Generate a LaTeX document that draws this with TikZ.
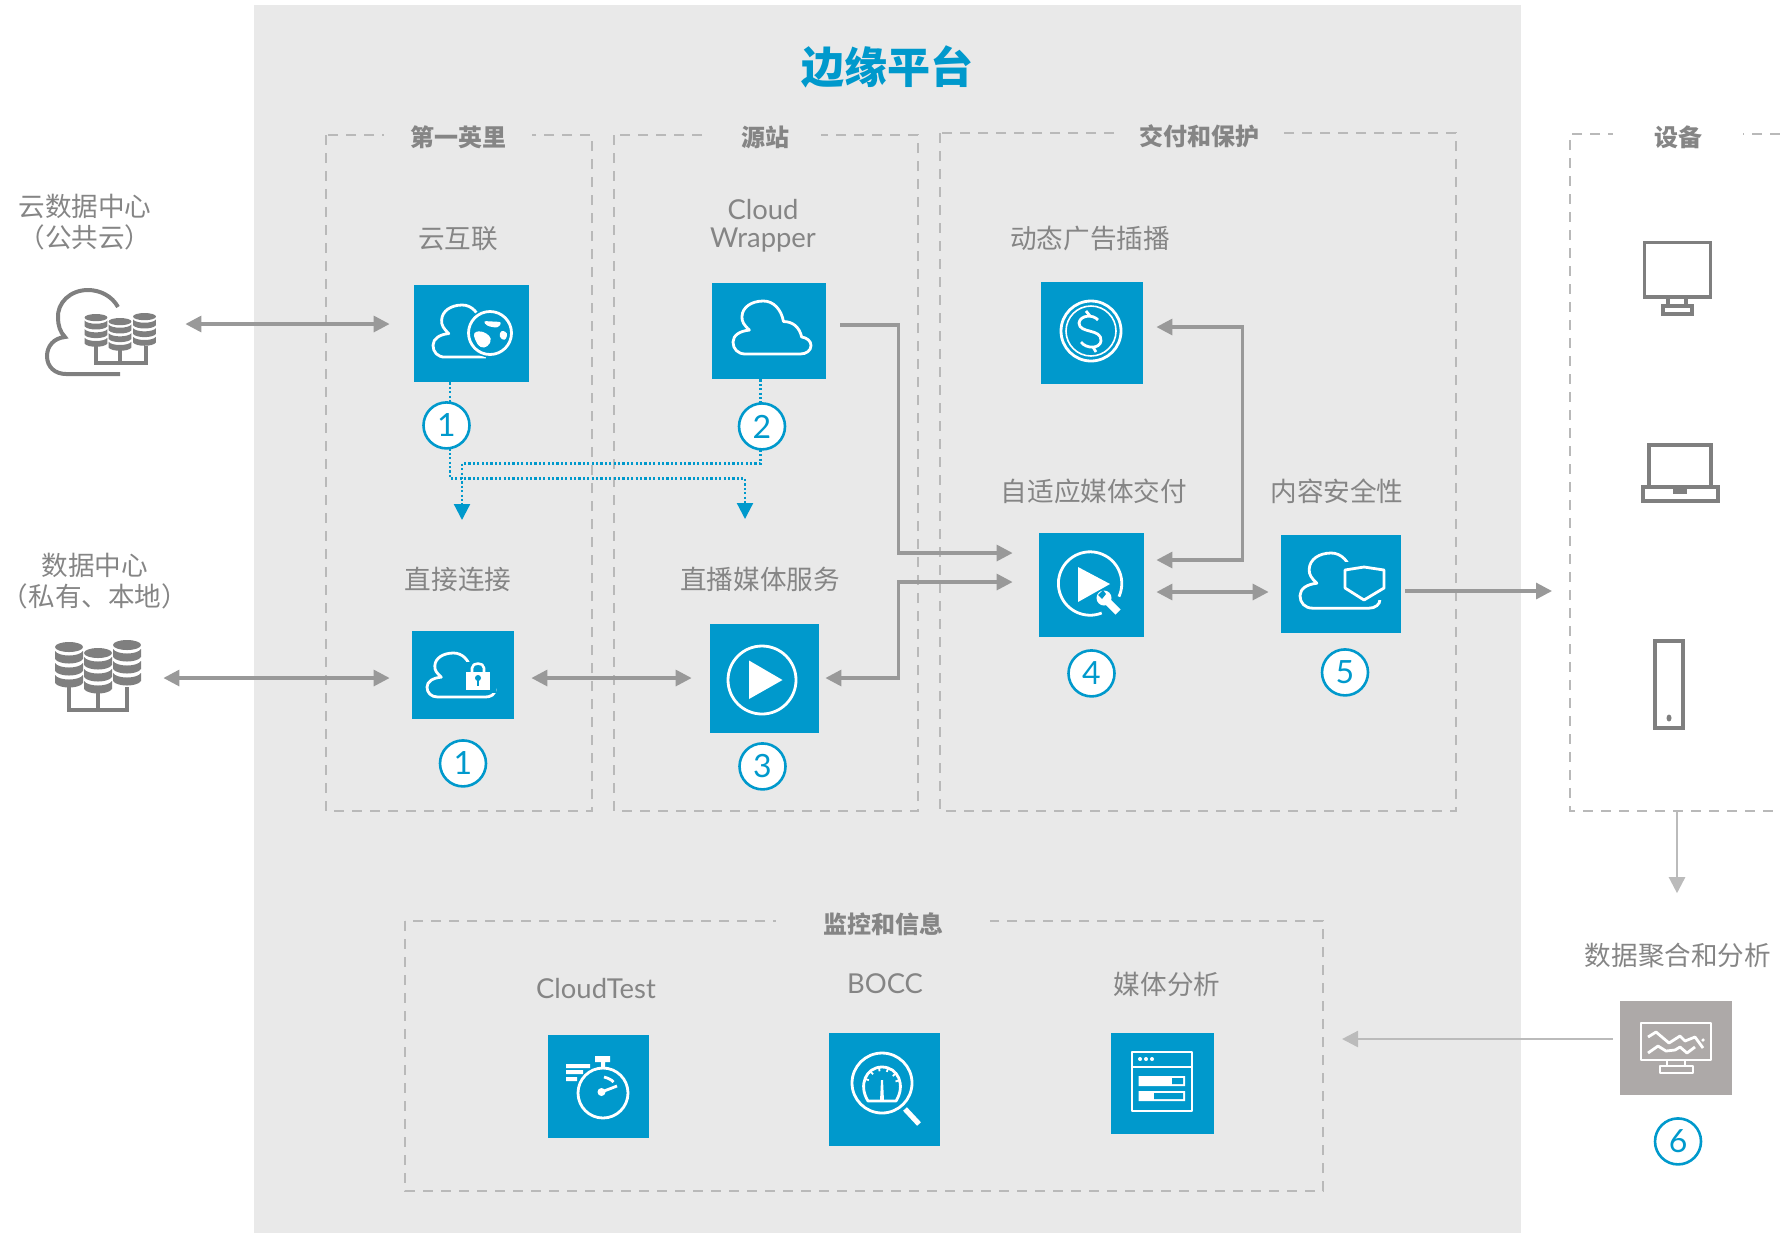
\documentclass[tikz,border=0pt]{standalone}
\usepackage{fontspec}
\setmainfont{Lato}
\newfontfamily\cjk{Noto Sans CJK SC}
\usetikzlibrary{arrows.meta,positioning}
\pgfdeclarelayer{back}
\pgfsetlayers{back,main}
\definecolor{akblue}{HTML}{0099CC}
\definecolor{panelgray}{HTML}{E9E9E9}
\definecolor{dashgray}{HTML}{B9B9B9}
\definecolor{textgray}{HTML}{858585}
\definecolor{conngray}{HTML}{999999}
\definecolor{lightconn}{HTML}{BBBBBB}
\definecolor{iconinkgray}{HTML}{7F7F7F}
\definecolor{agggray}{HTML}{ADA9A8}
\tikzset{
    iconbox/.style 2 args={
        rectangle,
        fill=akblue,
        inner sep=0pt,
        minimum width=#1*0.5pt,
        minimum height=#2*0.5pt,
    },
    ghostbox/.style 2 args={
        rectangle,
        inner sep=0pt,
        minimum width=#1*0.5pt,
        minimum height=#2*0.5pt,
    },
    stepnum/.style={
        circle,
        draw=akblue,
        line width=1.3pt,
        fill=white,
        text=akblue,
        inner sep=0pt,
        outer sep=0pt,
        minimum size=23pt,
        font=\fontsize{16}{16}\selectfont,
    },
    boxlabel/.style={
        inner sep=0pt,
        align=center,
        text=textgray,
        font=\cjk\fontsize{13.3}{15.5}\selectfont,
    },
    boxlabelen/.style={
        inner sep=0pt,
        align=center,
        text=textgray,
        font=\fontsize{13.7}{14}\selectfont,
    },
    boxtitle/.style={
        fill=panelgray,
        inner sep=0pt,
        text=textgray,
        minimum height=12pt,
        font=\cjk\bfseries\fontsize{12}{13}\selectfont,
    },
    dashbox/.style={
        draw=dashgray,
        line width=1.2pt,
        dash pattern=on 5pt off 4pt,
    },
    conn/.style={
        draw=conngray,
        line width=1.6pt,
    },
    connlight/.style={
        draw=lightconn,
        line width=1.2pt,
    },
    dotconn/.style={
        draw=akblue,
        line width=1.1pt,
        dash pattern=on 1.1pt off 1.1pt,
    },
    iconline/.style={
        draw=white,
        line width=1.4pt,
        line join=round,
    },
    devline/.style={
        draw=iconinkgray,
        line width=1.6pt,
    },
    cloudico/.pic={
        \draw[iconline] (16,62) .. controls (6,62) and (0,56) .. (0,48)
            .. controls (0,40) and (9,35) .. (21,34)
            .. controls (14,28) and (11,24) .. (11.5,18)
            .. controls (12,7) and (24,0) .. (39,0)
            .. controls (52,0) and (62,10) .. (64.7,24)
            .. controls (76,24) and (85,30) .. (88,42)
            .. controls (95,43) and (100,47) .. (100,52)
            .. controls (100,58) and (94,62) .. (86,62) -- cycle;
    },
    dbstack/.pic={
        \fill[iconinkgray] (0,5) ellipse [x radius=14,y radius=5];
        \foreach \y in {9,21,33}
            \fill[iconinkgray] (-14,\y) -- (-14,\y+8)
                .. controls (-10,\y+14) and (10,\y+14) .. (14,\y+8) -- (14,\y)
                .. controls (10,\y+6) and (-10,\y+6) .. (-14,\y) -- cycle;
    },
}

\begin{document}
\begin{tikzpicture}[x=0.5pt,y=-0.5pt,>={Triangle[length=8pt,width=8pt]}]
    \useasboundingbox (0,0) rectangle (1780,1233);

    % panel and dashed groups
    \begin{pgfonlayer}{back}
        \fill[panelgray] (254,5) rectangle (1521,1233);
        \draw[dashbox] (326,135) rectangle (592,811);
        \draw[dashbox] (614,135) rectangle (918,811);
        \draw[dashbox] (940,133) rectangle (1456,811);
        \draw[dashbox] (1780,134) -- (1570,134) -- (1570,811) -- (1780,811);
        \draw[dashbox] (405,921) rectangle (1323,1191);
    \end{pgfonlayer}

    \node [text=akblue,inner sep=0pt,font=\cjk\bfseries\fontsize{21.5}{24}\selectfont] (edgetitle) at (887,67) {边缘平台};
    \node [boxtitle,minimum width=74pt] (firstmile) at (458,137) {第一英里};
    \node [boxtitle,minimum width=56pt] (origin) at (765,137) {源站};
    \node [boxtitle,minimum width=78pt] (delivery) at (1199,136) {交付和保护};
    \node [boxtitle,fill=white,minimum width=65pt] (devices) at (1678,137) {设备};
    \node [boxtitle,minimum width=107pt] (monitor) at (883,924) {监控和信息};

    % left side sources
    \node [boxlabel] (pubdcl) at (85,222) {云数据中心\\（公共云）};
    \node [ghostbox={110}{86}] (pubdc) at (100,332) {};
    \node [boxlabel] (dbnl) at (95,581) {数据中心\\（私有、本地）};
    \node [ghostbox={85}{72}] (dbn) at (97.5,676) {};

    % service icons
    \node [iconbox={115}{97}] (ci) at (471.5,333.5) {};
    \node [iconbox={114}{96}] (cw) at (769,331) {};
    \node [iconbox={102}{102}] (dai) at (1092,333) {};
    \node [iconbox={102}{88}] (dc) at (463,675) {};
    \node [iconbox={109}{109}] (lm) at (764.5,678.5) {};
    \node [iconbox={105}{104}] (amd) at (1091.5,585) {};
    \node [iconbox={120}{98}] (sec) at (1341,584) {};
    \node [iconbox={101}{103}] (ct) at (598.5,1086.5) {};
    \node [iconbox={111}{113}] (bocc) at (884.5,1089.5) {};
    \node [iconbox={103}{101}] (ma) at (1162.5,1083.5) {};
    \node [iconbox={112}{94},fill=agggray] (agg) at (1676,1048) {};

    \node [boxlabel] (cil) at (458,238.5) {云互联};
    \node [boxlabelen] (cwl) at (763,226) {Cloud\\Wrapper};
    \node [boxlabel] (dail) at (1090,238) {动态广告插播};
    \node [boxlabel] (dcl) at (458,579) {直接连接};
    \node [boxlabel] (lml) at (760,579) {直播媒体服务};
    \node [boxlabel] (amdl) at (1094,491) {自适应媒体交付};
    \node [boxlabel] (secl) at (1337,491) {内容安全性};
    \node [boxlabelen] (ctl) at (596,988) {CloudTest};
    \node [boxlabelen] (boccl) at (885,984) {BOCC};
    \node [boxlabel] (mal) at (1167,984) {媒体分析};
    \node [boxlabel] (aggl) at (1678,955) {数据聚合和分析};

    \node [stepnum,below=10pt of ci,xshift=-12.5pt] (n1a) {1};
    \node [stepnum,below=12pt of cw,xshift=-3.5pt] (n2) {2};
    \node [stepnum,below=10.5pt of dc] (n1b) {1};
    \node [stepnum,below=5pt of lm,xshift=-1pt] (n3) {3};
    \node [stepnum,below=6.5pt of amd] (n4) {4};
    \node [stepnum,below=8pt of sec,xshift=2pt] (n5) {5};
    \node [stepnum,below=11.5pt of agg,xshift=1pt] (n6) {6};

    \coordinate (dcin) at (462,520);
    \coordinate (lmin) at (745,519);
    \coordinate (devin) at (1552,591);
    \coordinate (monin) at (1342,1039);

    % connectors go under the numbered circles
    \begin{pgfonlayer}{back}
        \draw[conn,<->] ([shift={(30,-8)}]pubdc.east) -- ([shift={(-24,-9.5)}]ci.west);
        \draw[conn,<->] ([shift={(23,2)}]dbn.east) -- ([shift={(-22,3)}]dc.west);
        \draw[conn,<->] ([shift={(17,3)}]dc.east) -- ([shift={(-18,-0.5)}]lm.west);
        \draw[conn,->] ([shift={(14,-6)}]cw.east) -- ++(58,0) |- ([shift={(-26,-32)}]amd.west);
        \draw[conn,<->] ([shift={(6,-0.5)}]lm.east) -- ++(73,0) |- ([shift={(-26,-3)}]amd.west);
        \draw[conn,<->] ([shift={(13,-6)}]dai.east) -- ++(86,0) |- ([shift={(12,-25)}]amd.east);
        \draw[conn,<->] ([shift={(12,7)}]amd.east) -- ([shift={(-12,8)}]sec.west);
        \draw[conn,->] ([shift={(4,7)}]sec.east) -- (devin);
        \draw[connlight,->] (1677,811) -- ([shift={(-1,-49)}]aggl.north);
        \draw[connlight,->] ([shift={(-7,-9)}]agg.west) -- (monin);
        \draw[dotconn,->] ([xshift=-10.75pt]ci.south) -- ++(0,96) -| (lmin);
        \draw[dotconn,->] ([xshift=-4.25pt]cw.south) -- ++(0,84) -| (dcin);
    \end{pgfonlayer}

    % cloud db icon
    \draw[devline,line width=2pt] (118,307) .. controls (112,296) and (100,290) .. (88,290)
        .. controls (70,290) and (57,303) .. (58,318)
        .. controls (58,325) and (60,332) .. (65,337)
        .. controls (54,338) and (47,346) .. (47,356)
        .. controls (47,367) and (55,374) .. (66,374) -- (120,374);
    \pic[xscale=.82,yscale=.72] at (96,314) {dbstack};
    \pic[xscale=.82,yscale=.72] at (120,318) {dbstack};
    \pic[xscale=.82,yscale=.72] at (144.5,313) {dbstack};
    \draw[devline,line width=2.4pt] (96,346) -- (96,363) -- (146,363) -- (146,346) (120,350) -- (120,363);

    % plain db icon
    \pic at (69,642) {dbstack};
    \pic at (98,648) {dbstack};
    \pic at (127,640) {dbstack};
    \draw[devline,line width=2.2pt] (69,687) -- (69,710) -- (127,710) -- (127,687) (98,693) -- (98,710);

    % device icons
    \draw[devline] (1644.5,242.5) rectangle (1710.5,297);
    \draw[devline] (1668,297) rectangle (1686,306) (1663,306) rectangle (1692,314);
    \draw[devline] (1649,445) rectangle (1711,487);
    \draw[devline] (1643,487) rectangle (1718,501);
    \fill[iconinkgray] (1673,487) rectangle (1687,494);
    \draw[devline] (1655,641) rectangle (1683,728);
    \fill[iconinkgray] (1669,718) ellipse [x radius=2.5,y radius=3.5];

    % cloud with globe
    \pic[xscale=.75,yscale=.84] at (433,305) {cloudico};
    \fill[akblue] (486,345) rectangle (512,362);
    \fill[akblue] (490,333) circle (24.5);
    \draw[iconline] (490,333) circle (21.5);
    \fill[white,rounded corners=2pt] (473,332) -- (483,331) -- (492,338) -- (488,347) -- (480,348) -- (475,340) -- cycle;
    \fill[white,rounded corners=1.5pt] (483,321) -- (502,322) -- (498,328) -- (487,326) -- cycle;
    \fill[white,rounded corners=1.5pt] (501,330) -- (508,333) -- (505,341) -- (499,337) -- cycle;

    % plain cloud
    \pic[xscale=.78,yscale=.855] at (733,301) {cloudico};

    % dollar coin
    \draw[iconline] (1091,331) circle (30);
    \draw[iconline,line width=.8pt] (1091,331) circle (25);
    \draw[iconline] (1098,320) .. controls (1093,314) and (1080,315) .. (1079,323)
        .. controls (1079,334) and (1102,328) .. (1101,341)
        .. controls (1100,349) and (1086,349) .. (1081,342);
    \draw[iconline] (1086,311) -- (1090,316) (1093,347) -- (1096,352);

    % cloud with lock
    \pic[xscale=.68,yscale=.71] at (427,653) {cloudico};
    \fill[akblue] (462,662) rectangle (496,693);
    \draw[iconline,line width=1.3pt] (472,673) -- (472,668) .. controls (472,662) and (484,662) .. (484,668) -- (484,673);
    \fill[white] (466,672) rectangle (490,690);
    \fill[akblue] (478,678) circle (3);
    \fill[akblue] (476.8,678) rectangle (479.2,686);

    % play button
    \draw[iconline] (762,680) circle (34);
    \fill[white] (749,660.5) -- (749,699) -- (782.5,680) -- cycle;

    % play with wrench
    \draw[iconline] (1101.7,613) arc [start angle=68.5,end angle=384.5,radius=31.7];
    \fill[white] (1078,567) -- (1078,602) -- (1110,584) -- cycle;
    \draw[white,line width=3.6pt] (1104,598) -- (1118,612);
    \fill[white] (1104,598) circle (7.5);
    \fill[akblue] (1098,595) -- (1103,590) -- (1106,594) -- (1102,599) -- cycle;

    % cloud with shield
    \pic[xscale=.8,yscale=.89] at (1300,553) {cloudico};
    \fill[akblue] (1338,562) rectangle (1392,600);
    \draw[iconline] (1345,570) -- (1364,567) -- (1384,570) -- (1384,588) -- (1364,600) -- (1345,588) -- cycle;

    % stopwatch
    \draw[iconline] (603,1093) circle (25);
    \fill[white] (595,1056) rectangle (610,1062) (601,1062) rectangle (605,1068);
    \fill[white] (566,1064) rectangle (590,1068) (566,1070) rectangle (583,1074) (566,1077) rectangle (577,1081);
    \fill[white] (601.5,1092) circle (4);
    \draw[iconline] (601.5,1092) -- (617,1086);
    \draw[iconline] (604,1077) .. controls (608,1078) and (612,1080) .. (613.5,1082);

    % gauge in magnifier
    \draw[iconline] (882,1083) circle (30);
    \draw[iconline] (868,1101) .. controls (858,1085) and (866,1067) .. (882,1067)
        .. controls (898,1067) and (906,1085) .. (896,1101) -- cycle;
    \fill[white] (880,1101) -- (881,1080) -- (883,1080) -- (884,1101) -- cycle;
    \draw[white,line width=2.6pt] (905,1109) -- (919,1124);
    \foreach \a in {-160,-130,-100,-70,-40,-15}
        \draw[iconline,line width=.9pt] (882,1085) ++(\a:14) -- ++(\a:4);

    % analytics window
    \draw[iconline] (1132,1052) rectangle (1192,1111);
    \draw[iconline] (1132,1067) -- (1192,1067);
    \foreach \x in {1140,1146,1152}
        \fill[white] (\x,1059) circle (2);
    \fill[white] (1138.5,1076) rectangle (1185,1086) (1138.5,1091) rectangle (1185,1101);
    \fill[akblue] (1172,1078) rectangle (1183,1084) (1154,1093) rectangle (1183,1099);

    % aggregation monitor
    \draw[iconline] (1641,1023) rectangle (1711,1060);
    \draw[iconline] (1667,1060) rectangle (1685,1066) (1660,1066) rectangle (1693,1073);
    \draw[iconline] (1648,1037) -- (1656,1032) -- (1669,1043) -- (1680,1036) -- (1685,1041) -- (1695,1037) -- (1703,1048);
    \draw[iconline] (1648,1053) -- (1658,1046) -- (1666,1051) -- (1675,1050) -- (1680,1047) -- (1687,1053) -- (1695,1047);
    \fill[white] (1703,1040) circle (1.8);
\end{tikzpicture}
\end{document}
